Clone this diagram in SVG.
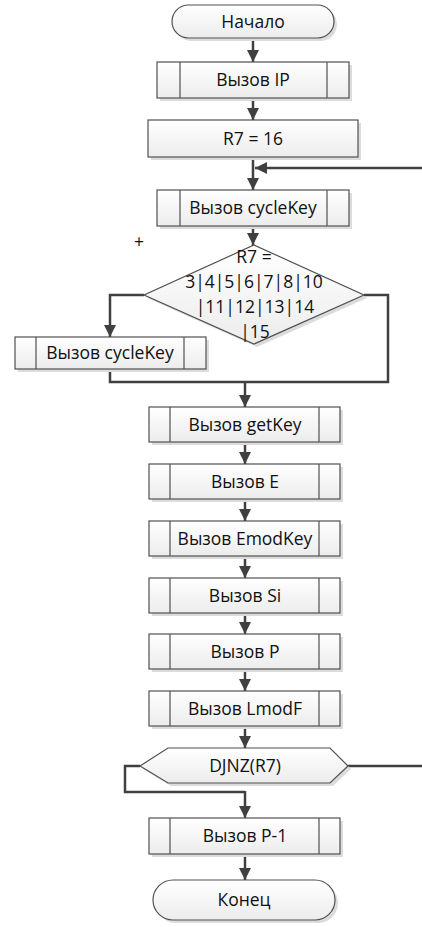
<svg xmlns="http://www.w3.org/2000/svg" width="422" height="927" viewBox="0 0 422 927">
<style>
.sh{fill:#dcdcdc;stroke:none}
.bx{fill:url(#g);stroke:#505050;stroke-width:1.2}
.in{stroke:#505050;stroke-width:1.2;fill:none}
.t{font-family:"Open Sans","Noto Sans",sans-serif;font-size:17.5px;fill:#111;text-anchor:middle}
.c{fill:none;stroke:#404040;stroke-width:2.5}
.ca{fill:none;stroke:#404040;stroke-width:2.5;marker-end:url(#ah)}
</style>
<defs>
<linearGradient id="g" x1="0" y1="0" x2="0" y2="1"><stop offset="0" stop-color="#ffffff"/><stop offset="1" stop-color="#ececec"/></linearGradient>
<marker id="ah" viewBox="0 0 12 12" refX="12" refY="6" markerWidth="12" markerHeight="12" markerUnits="userSpaceOnUse" orient="auto"><path d="M0,0 L12,6 L0,12 Z" fill="#404040"/></marker>
</defs>
<rect width="422" height="927" fill="#fff"/>
<g id="connectors">
<line class="ca" x1="253" y1="38" x2="253" y2="62"/>
<line class="ca" x1="253" y1="98" x2="253" y2="120"/>
<line class="ca" x1="253" y1="157" x2="253" y2="190"/>
<line class="ca" x1="422" y1="168" x2="255" y2="168"/>
<line class="ca" x1="253" y1="226" x2="253" y2="245"/>
<polyline class="ca" points="144,295 110,295 110,337"/>
<polyline class="c" points="364,295 388,295 388,382 245,382"/>
<polyline class="c" points="110,369 110,382 245,382"/>
<line class="ca" x1="245" y1="381" x2="245" y2="407"/>
<line class="ca" x1="245" y1="442" x2="245" y2="464"/>
<line class="ca" x1="245" y1="499" x2="245" y2="521"/>
<line class="ca" x1="245" y1="556" x2="245" y2="578"/>
<line class="ca" x1="245" y1="613" x2="245" y2="634"/>
<line class="ca" x1="245" y1="669" x2="245" y2="691"/>
<line class="ca" x1="245" y1="726" x2="245" y2="748"/>
<line class="c" x1="348" y1="766" x2="422" y2="766"/>
<polyline class="c" points="140,766 125,766 125,792 245,792"/>
<line class="ca" x1="245" y1="791" x2="245" y2="818"/>
<line class="ca" x1="245" y1="857" x2="245" y2="880"/>
</g>
<g id="start">
<rect class="sh" x="175" y="8" width="162" height="33" rx="16.5"/>
<rect class="bx" x="172" y="5" width="162" height="33" rx="16.5"/>
<text class="t" x="253" y="28">Начало</text>
</g>
<g id="callIP">
<rect class="sh" x="160" y="65" width="192" height="36"/>
<rect class="bx" x="157" y="62" width="192" height="36"/>
<path class="in" d="M180,62V98M327,62V98"/>
<text class="t" x="253" y="86">Вызов IP</text>
</g>
<g id="r7">
<rect class="sh" x="151" y="123" width="210" height="37"/>
<rect class="bx" x="148" y="120" width="210" height="37"/>
<text class="t" x="253" y="145">R7 = 16</text>
</g>
<g id="cycleKey1">
<rect class="sh" x="160" y="193" width="192" height="36"/>
<rect class="bx" x="157" y="190" width="192" height="36"/>
<path class="in" d="M180,190V226M327,190V226"/>
<text class="t" x="253" y="214">Вызов cycleKey</text>
</g>
<g id="decision">
<polygon class="sh" points="257,248 367,298 257,347 147,298"/>
<polygon class="bx" points="254,245 364,295 254,344 144,295"/>
<text class="t" x="254" y="263">R7 =</text>
<text class="t" x="254" y="288">3|4|5|6|7|8|10</text>
<text class="t" x="255" y="313">|11|12|13|14</text>
<text class="t" x="255" y="338">|15</text>
</g>
<text class="t" x="139" y="248">+</text>
<g id="cycleKey2">
<rect class="sh" x="18" y="340" width="191" height="32"/>
<rect class="bx" x="15" y="337" width="191" height="32"/>
<path class="in" d="M36,337V369M184,337V369"/>
<text class="t" x="110" y="359">Вызов cycleKey</text>
</g>
<g id="getKey">
<rect class="sh" x="152" y="410" width="191" height="35"/>
<rect class="bx" x="149" y="407" width="191" height="35"/>
<path class="in" d="M170,407V442M319,407V442"/>
<text class="t" x="245" y="431">Вызов getKey</text>
</g>
<g id="callE">
<rect class="sh" x="152" y="467" width="191" height="35"/>
<rect class="bx" x="149" y="464" width="191" height="35"/>
<path class="in" d="M170,464V499M319,464V499"/>
<text class="t" x="245" y="488">Вызов E</text>
</g>
<g id="emodKey">
<rect class="sh" x="152" y="524" width="191" height="35"/>
<rect class="bx" x="149" y="521" width="191" height="35"/>
<path class="in" d="M170,521V556M319,521V556"/>
<text class="t" x="245" y="545">Вызов EmodKey</text>
</g>
<g id="callSi">
<rect class="sh" x="152" y="581" width="191" height="35"/>
<rect class="bx" x="149" y="578" width="191" height="35"/>
<path class="in" d="M170,578V613M319,578V613"/>
<text class="t" x="245" y="602">Вызов Si</text>
</g>
<g id="callP">
<rect class="sh" x="152" y="637" width="191" height="35"/>
<rect class="bx" x="149" y="634" width="191" height="35"/>
<path class="in" d="M170,634V669M319,634V669"/>
<text class="t" x="245" y="658">Вызов P</text>
</g>
<g id="lmodF">
<rect class="sh" x="152" y="694" width="191" height="35"/>
<rect class="bx" x="149" y="691" width="191" height="35"/>
<path class="in" d="M170,691V726M319,691V726"/>
<text class="t" x="245" y="715">Вызов LmodF</text>
</g>
<g id="djnz">
<polygon class="sh" points="143,769 171,751 333,751 351,769 333,786 171,786"/>
<polygon class="bx" points="140,766 168,748 330,748 348,766 330,783 168,783"/>
<text class="t" x="245" y="772">DJNZ(R7)</text>
</g>
<g id="callP1">
<rect class="sh" x="152" y="821" width="191" height="36"/>
<rect class="bx" x="149" y="818" width="191" height="36"/>
<path class="in" d="M170,818V854M319,818V854"/>
<text class="t" x="245" y="842">Вызов P-1</text>
</g>
<g id="end">
<rect class="sh" x="156" y="883" width="182" height="40" rx="20"/>
<rect class="bx" x="153" y="880" width="182" height="40" rx="20"/>
<text class="t" x="244" y="906">Конец</text>
</g>
</svg>
